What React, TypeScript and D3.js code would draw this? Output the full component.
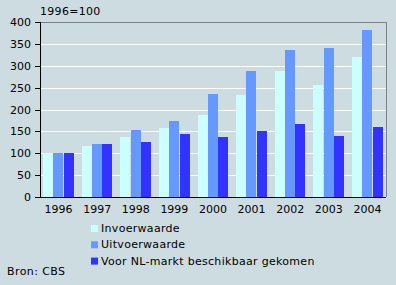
import React from "react";
import * as d3 from "d3";

const years = ["1996", "1997", "1998", "1999", "2000", "2001", "2002", "2003", "2004"];
const invoer = [100, 117, 138, 158, 188, 234, 287, 255, 321];
const uitvoer = [100, 122, 154, 174, 236, 289, 337, 341, 382];
const nlMarkt = [100, 122, 126, 143, 136, 151, 167, 140, 161];
const seriesNames = ["Invoerwaarde", "Uitvoerwaarde", "Voor NL-markt beschikbaar gekomen"];
const seriesColors = ["#ccffff", "#6699ff", "#3333ff"];
const yTicks = [0, 50, 100, 150, 200, 250, 300, 350, 400];

const W = 396;
const H = 285;
const FONT = "DejaVu Sans, Verdana, sans-serif";

export default function App() {
  const left = 40, right = 386, top = 22, bottom = 197;
  const x = d3.scaleBand<string>().domain(years).range([left, right]).paddingInner(0.2).paddingOuter(0.08);
  const xs = d3.scaleBand<number>().domain([0, 1, 2]).range([0, x.bandwidth()]).padding(0);
  const y = d3.scaleLinear().domain([0, 400]).range([bottom, top]);
  const data = [invoer, uitvoer, nlMarkt];

  return (
    <div style={{ position: "absolute", left: 0, top: 0 }}>
      <svg width={W} height={H} style={{ display: "block" }} fontFamily={FONT}>
        <rect x={0} y={0} width={W} height={H} fill="#cddce1" />
        {yTicks.filter((t) => t > 0 && t < 400).map((t) => (
          <line key={t} x1={left} x2={right} y1={Math.round(y(t)) + 0.5} y2={Math.round(y(t)) + 0.5} stroke="#ffffff" strokeWidth={1} />
        ))}
        <line x1={left} x2={right} y1={top + 0.5} y2={top + 0.5} stroke="#808080" />
        <line x1={right + 0.5} x2={right + 0.5} y1={top} y2={bottom} stroke="#808080" />
        {data.map((vals, si) =>
          years.map((yr, i) => {
            const bx = (x(yr) ?? 0) + (xs(si) ?? 0);
            return (
              <rect key={`${si}-${yr}`} x={Math.round(bx)} y={Math.round(y(vals[i]))} width={Math.round(xs.bandwidth())} height={Math.round(bottom - y(vals[i]))} fill={seriesColors[si]} />
            );
          })
        )}
        <line x1={left + 0.5} x2={left + 0.5} y1={top} y2={bottom + 1} stroke="#000" />
        <line x1={left - 5} x2={right} y1={bottom + 0.5} y2={bottom + 0.5} stroke="#000" />
        {yTicks.map((t) => (
          <g key={t}>
            <line x1={left - 5} x2={left} y1={Math.round(y(t)) + 0.5} y2={Math.round(y(t)) + 0.5} stroke="#000" />
            <text x={31} y={y(t) + 4} textAnchor="end" fontSize={11} fill="#000">{t}</text>
          </g>
        ))}
        <text x={40} y={15} fontSize={11} fill="#000" letterSpacing={0.3}>1996=100</text>
        {years.map((yr) => (
          <text key={yr} x={(x(yr) ?? 0) + x.bandwidth() / 2} y={213} textAnchor="middle" fontSize={11} fill="#000">{yr}</text>
        ))}
        {seriesNames.map((n, i) => (
          <g key={n}>
            <rect x={91} y={225 + i * 16.3} width={7} height={7} fill={seriesColors[i]} />
            <text x={101} y={232 + i * 16.3} fontSize={11} fill="#000" letterSpacing={0.3}>{n}</text>
          </g>
        ))}
        <text x={7} y={275} fontSize={11} fill="#000" letterSpacing={0.4}>Bron: CBS</text>
      </svg>
    </div>
  );
}
